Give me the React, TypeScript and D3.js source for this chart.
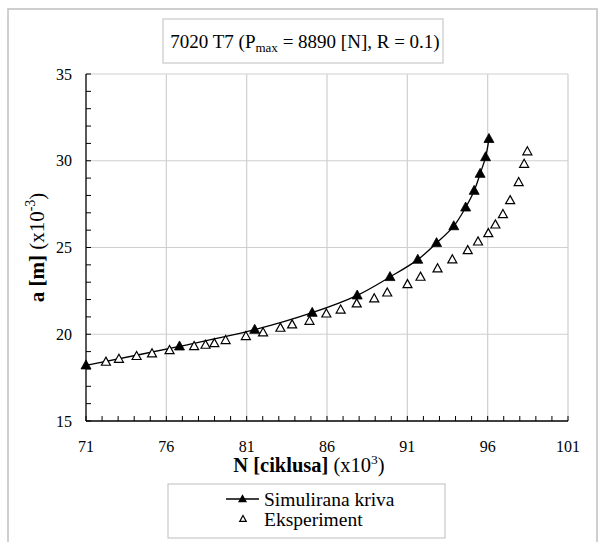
import React from "react";
import * as d3 from "d3";

const simN = [71.0, 76.82, 81.5, 85.08, 87.88, 89.92, 91.65, 92.82, 93.89, 94.63, 95.16, 95.53, 95.87, 96.08];
const simA = [18.21, 19.3, 20.26, 21.24, 22.24, 23.3, 24.3, 25.26, 26.23, 27.31, 28.27, 29.25, 30.21, 31.26];

const expN = [72.24, 73.05, 74.15, 75.11, 76.2, 77.73, 78.44, 78.99, 79.69, 80.95, 82.02, 83.1, 83.83, 84.91, 85.96, 86.85, 87.85, 88.94, 89.75, 91.01, 91.82, 92.88, 93.8, 94.76, 95.4, 96.04, 96.48, 96.95, 97.4, 97.93, 98.27, 98.47];
const expA = [18.4, 18.57, 18.73, 18.88, 19.07, 19.3, 19.38, 19.47, 19.65, 19.88, 20.09, 20.36, 20.55, 20.76, 21.18, 21.41, 21.76, 22.05, 22.39, 22.87, 23.3, 23.78, 24.3, 24.83, 25.33, 25.81, 26.31, 26.91, 27.71, 28.75, 29.81, 30.53];

const xTicks = [71, 76, 81, 86, 91, 96, 101];
const yTicks = [15, 20, 25, 30, 35];
const seriesNames = ["Simulirana kriva", "Eksperiment"];

const W = 604;
const H = 542;
const L = 86, R = 568, T = 74, B = 421;
const FONT = "Liberation Serif, Tinos, Times New Roman, serif";
const ts: React.CSSProperties = { fontFamily: FONT };

function tri(cx: number, cy: number, s: number) {
  const h = s * 0.9;
  return `M${cx},${cy - h * 0.6}L${cx + s / 2},${cy + h * 0.4}L${cx - s / 2},${cy + h * 0.4}Z`;
}

export default function App() {
  const x = d3.scaleLinear().domain([71, 101]).range([L, R]);
  const y = d3.scaleLinear().domain([15, 35]).range([B, T]);
  const minorX = d3.range(71, 101.01, 1);
  const minorY = d3.range(15, 35.01, 1);
  const line = d3
    .line<number>()
    .x((_, i) => x(simN[i]))
    .y((_, i) => y(simA[i]))
    .curve(d3.curveCatmullRom.alpha(0.5));

  return (
    <svg width={W} height={H} style={{ position: "absolute", left: 0, top: 0, fontFamily: FONT }}>
      <rect x={0} y={0} width={W} height={H} fill="#fff" />
      <rect x={8} y={9} width={589} height={545} fill="#fff" stroke="#c4c4c4" strokeWidth={1.6} />
      {/* title */}
      <rect x={163} y={19} width={280} height={44} fill="#fff" stroke="#c8c8c8" strokeWidth={1.2} />
      <text x={305} y={48} textAnchor="middle" fontSize={19} style={ts}>
        7020 T7 (P<tspan fontSize={13} dy={4}>max</tspan>
        <tspan dy={-4}> = 8890 [N], R = 0.1)</tspan>
      </text>
      {/* grid */}
      {xTicks.slice(1).map((t) => (
        <line key={"gx" + t} x1={x(t)} x2={x(t)} y1={T} y2={B} stroke="#cfcfcf" strokeWidth={1.2} />
      ))}
      {yTicks.slice(1).map((t) => (
        <line key={"gy" + t} x1={L} x2={R} y1={y(t)} y2={y(t)} stroke="#cfcfcf" strokeWidth={1.2} />
      ))}
      {/* axes */}
      <line x1={L} x2={L} y1={T} y2={B} stroke="#000" strokeWidth={1.3} />
      <line x1={L} x2={R} y1={B} y2={B} stroke="#000" strokeWidth={1.3} />
      {minorX.map((t) => (
        <line key={"tx" + t} x1={x(t)} x2={x(t)} y1={B} y2={B - 5} stroke="#000" strokeWidth={1} />
      ))}
      {minorY.map((t) => (
        <line key={"ty" + t} x1={L} x2={L + 5} y1={y(t)} y2={y(t)} stroke="#000" strokeWidth={1} />
      ))}
      {xTicks.map((t) => (
        <text key={"lx" + t} x={x(t)} y={452} textAnchor="middle" fontSize={16} style={ts}>
          {t}
        </text>
      ))}
      {yTicks.map((t) => (
        <text key={"ly" + t} x={72} y={y(t) + 5.5} textAnchor="end" fontSize={16} style={ts}>
          {t}
        </text>
      ))}
      {/* axis titles */}
      <text x={309} y={472} textAnchor="middle" fontSize={20.5} style={ts}>
        <tspan fontWeight="bold">N [ciklusa]</tspan>
        <tspan> (x10</tspan>
        <tspan fontSize={13.5} dy={-8}>3</tspan>
        <tspan dy={8}>)</tspan>
      </text>
      <text transform={`translate(44,${(T + B) / 2}) rotate(-90)`} textAnchor="middle" fontSize={21} style={ts}>
        <tspan fontWeight="bold">a [m]</tspan>
        <tspan> (x10</tspan>
        <tspan fontSize={14} dy={-9}>-3</tspan>
        <tspan dy={9}>)</tspan>
      </text>
      {/* series */}
      <path d={line(simN) || ""} fill="none" stroke="#000" strokeWidth={1.3} />
      {simN.map((n, i) => (
        <path key={"s" + i} d={tri(x(n), y(simA[i]), 10)} fill="#000" stroke="#000" strokeWidth={0.8} />
      ))}
      {expN.map((n, i) => (
        <path key={"e" + i} d={tri(x(n), y(expA[i]), 9)} fill="#fff" stroke="#000" strokeWidth={1.2} />
      ))}
      {/* legend */}
      <rect x={168} y={484} width={277} height={54} fill="#fff" stroke="#c8c8c8" strokeWidth={1.2} />
      <line x1={226} x2={259} y1={499} y2={499} stroke="#000" strokeWidth={1.3} />
      <path d={tri(242.5, 499, 9)} fill="#000" />
      <text x={264} y={506} fontSize={19.5} style={ts}>
        {seriesNames[0]}
      </text>
      <path d={tri(243, 519, 6.5)} fill="#fff" stroke="#000" strokeWidth={1.2} />
      <text x={264} y={526} fontSize={19.5} style={ts}>
        {seriesNames[1]}
      </text>
    </svg>
  );
}
